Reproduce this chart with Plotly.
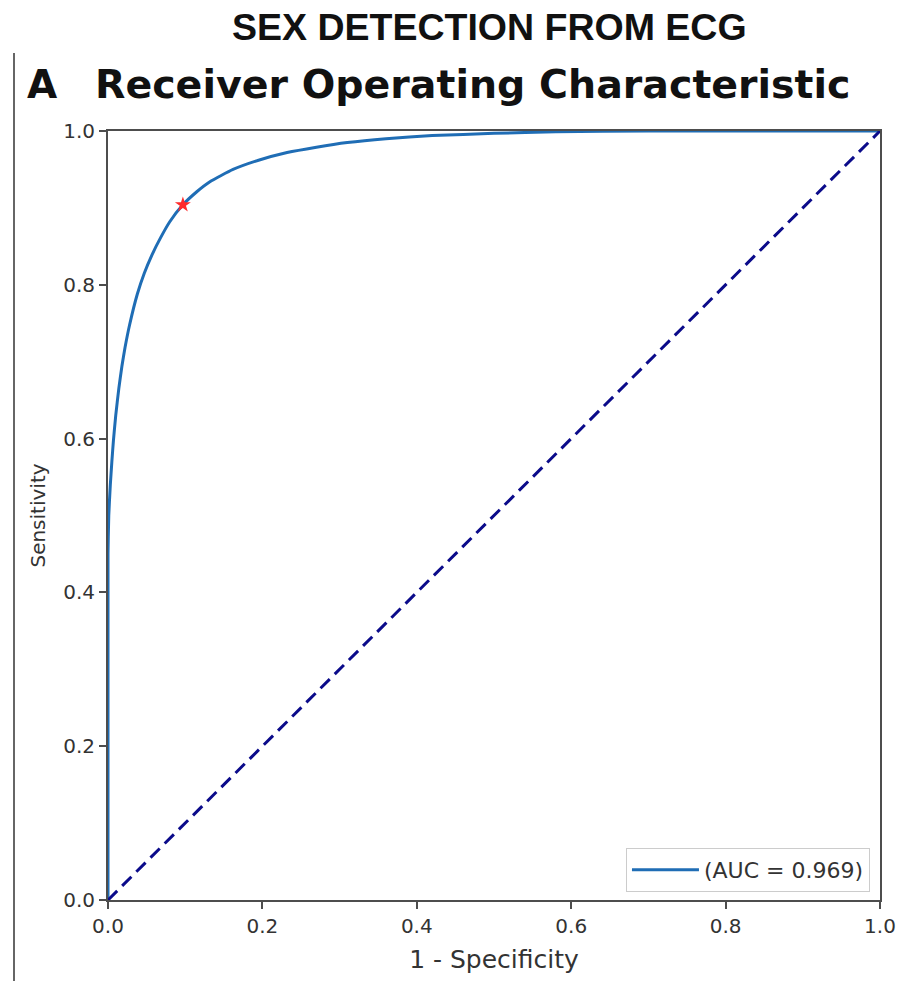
import plotly.graph_objects as go

# ROC curve
fpr = [0, 0, 0.001, 0.003, 0.005, 0.007, 0.010, 0.014, 0.018, 0.022, 0.028, 0.038, 0.047,
       0.057, 0.068, 0.080, 0.097, 0.115, 0.132, 0.162, 0.195, 0.232, 0.27, 0.31, 0.36,
       0.42, 0.50, 0.58, 0.70, 0.85, 1.0]
tpr = [0, 0.45, 0.50, 0.54, 0.57, 0.597, 0.630, 0.665, 0.694, 0.718, 0.748, 0.788, 0.815,
       0.839, 0.861, 0.882, 0.904, 0.921, 0.934, 0.950, 0.962, 0.972, 0.979, 0.985, 0.990,
       0.994, 0.997, 0.999, 1.0, 1.0, 1.0]
chance_x = [0, 1]
chance_y = [0, 1]
op_point_x = [0.097]
op_point_y = [0.904]
auc_label = "(AUC = 0.969)"
tick_vals = [0.0, 0.2, 0.4, 0.6, 0.8, 1.0]
tick_text = ["0.0", "0.2", "0.4", "0.6", "0.8", "1.0"]

fig = go.Figure()
fig.add_trace(go.Scatter(x=fpr, y=tpr, mode="lines", name=auc_label,
                         line=dict(color="#1f6db5", width=3, shape="spline", smoothing=0.5)))
fig.add_trace(go.Scatter(x=chance_x, y=chance_y, mode="lines", showlegend=False,
                         line=dict(color="#0b0b8a", width=3, dash="13px,7px")))
fig.add_trace(go.Scatter(x=op_point_x, y=op_point_y, mode="markers", showlegend=False,
                         marker=dict(symbol="star", size=12, color="#ff2a2a")))

axis_common = dict(range=[0, 1], tickvals=tick_vals, ticktext=tick_text,
                   showgrid=False, zeroline=False, showline=True, mirror=True,
                   linecolor="#4d4d4d", linewidth=2, ticks="outside", ticklen=7,
                   tickwidth=2, tickcolor="#4d4d4d", automargin=False,
                   tickfont=dict(family="DejaVu Sans", size=20, color="#333333"),
                   layer="below traces")

fig.update_layout(
    width=897, height=981,
    margin=dict(l=108, r=17, t=131, b=81),
    paper_bgcolor="white", plot_bgcolor="white",
    xaxis=dict(**axis_common,
               title=dict(text="1 - Specificity", standoff=13,
                          font=dict(family="DejaVu Sans", size=25, color="#333333"))),
    yaxis=dict(**axis_common,
               title=dict(text="Sensitivity", standoff=12,
                          font=dict(family="DejaVu Sans", size=20, color="#333333"))),
    legend=dict(x=0.987, y=0.0104, xanchor="right", yanchor="bottom",
                bgcolor="white", bordercolor="#cccccc", borderwidth=1,
                font=dict(family="DejaVu Sans", size=22, color="#333333"),
                itemwidth=67),
    showlegend=True,
)

fig.add_annotation(text="<b>SEX DETECTION FROM ECG</b>", xref="paper", yref="paper",
                   x=(489 - 108) / 772, y=1 + (131 - 27) / 769, xanchor="center", yanchor="middle",
                   showarrow=False,
                   font=dict(family="Liberation Sans", size=37.5, color="#111111"))
fig.add_annotation(text="<b>A</b>", xref="paper", yref="paper",
                   x=(25 - 108) / 772, y=1 + (131 - 84) / 769, xanchor="left", yanchor="middle",
                   showarrow=False,
                   font=dict(family="DejaVu Sans", size=39, color="#111111"))
fig.add_annotation(text="<b>Receiver Operating Characteristic</b>", xref="paper", yref="paper",
                   x=(93 - 108) / 772, y=1 + (131 - 84) / 769, xanchor="left", yanchor="middle",
                   showarrow=False,
                   font=dict(family="DejaVu Sans", size=39.5, color="#111111"))

# left border line of the figure panel
fig.add_shape(type="line", xref="paper", yref="paper",
              x0=(14 - 108) / 772, x1=(14 - 108) / 772,
              y0=1 + (131 - 53) / 769, y1=-(981 - 900) / 769,
              line=dict(color="#666666", width=2))

fig.write_html("out.html")
